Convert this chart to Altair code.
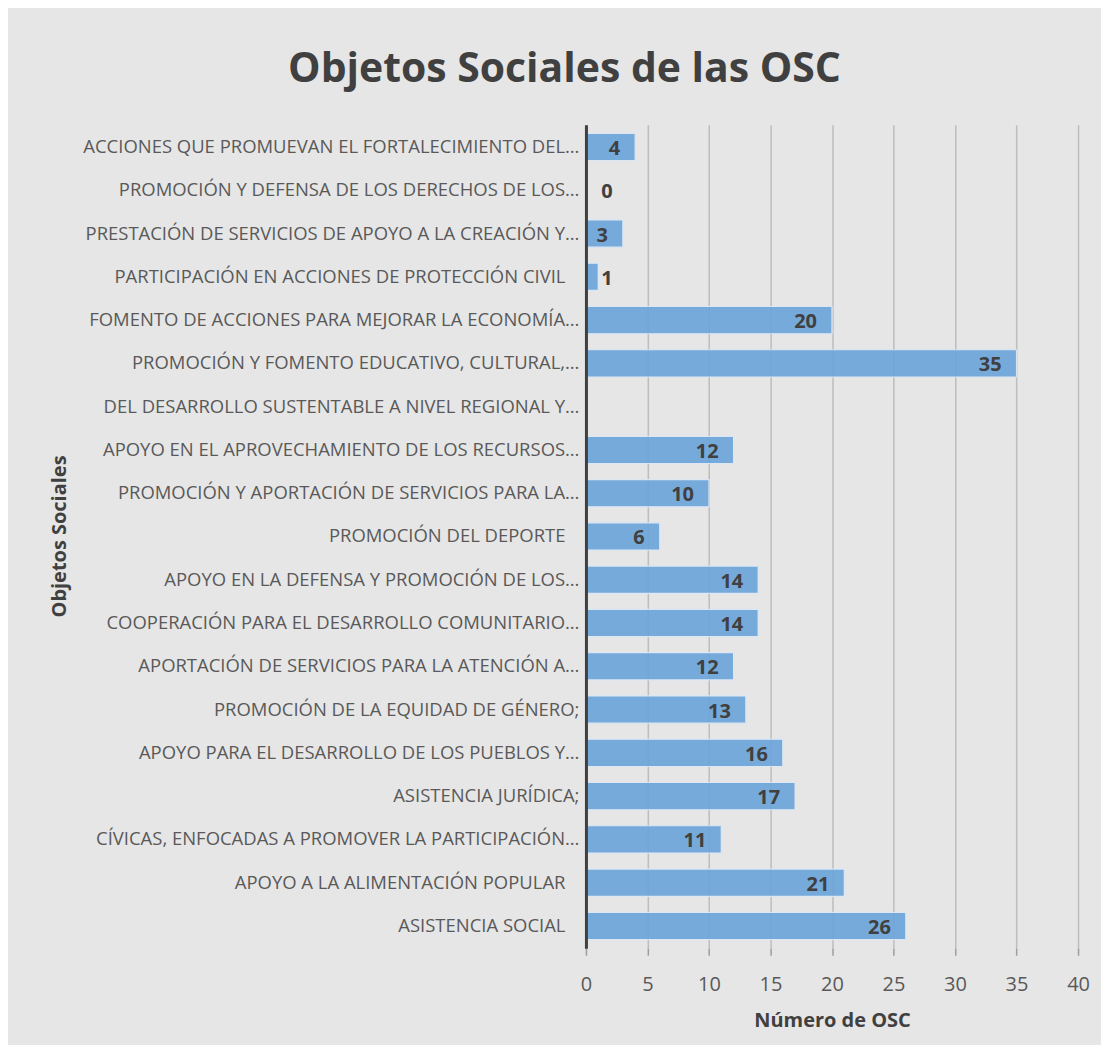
import altair as alt
import pandas as pd

categorias = [
    "ACCIONES QUE PROMUEVAN EL FORTALECIMIENTO DEL…",
    "PROMOCIÓN Y DEFENSA DE LOS DERECHOS DE LOS…",
    "PRESTACIÓN DE SERVICIOS DE APOYO A LA CREACIÓN Y…",
    "PARTICIPACIÓN EN ACCIONES DE PROTECCIÓN CIVIL",
    "FOMENTO DE ACCIONES PARA MEJORAR LA ECONOMÍA…",
    "PROMOCIÓN Y FOMENTO EDUCATIVO, CULTURAL,…",
    "DEL DESARROLLO SUSTENTABLE A NIVEL REGIONAL Y…",
    "APOYO EN EL APROVECHAMIENTO DE LOS RECURSOS…",
    "PROMOCIÓN Y APORTACIÓN DE SERVICIOS PARA LA…",
    "PROMOCIÓN DEL DEPORTE",
    "APOYO EN LA DEFENSA Y PROMOCIÓN DE LOS…",
    "COOPERACIÓN PARA EL DESARROLLO COMUNITARIO…",
    "APORTACIÓN DE SERVICIOS PARA LA ATENCIÓN A…",
    "PROMOCIÓN DE LA EQUIDAD DE GÉNERO;",
    "APOYO PARA EL DESARROLLO DE LOS PUEBLOS Y…",
    "ASISTENCIA JURÍDICA;",
    "CÍVICAS, ENFOCADAS A PROMOVER LA PARTICIPACIÓN…",
    "APOYO A LA ALIMENTACIÓN POPULAR",
    "ASISTENCIA SOCIAL",
]
valores = [4, 0, 3, 1, 20, 35, None, 12, 10, 6, 14, 14, 12, 13, 16, 17, 11, 21, 26]
ticks_x = [0, 5, 10, 15, 20, 25, 30, 35, 40]

df = pd.DataFrame({"cat": categorias, "v": valores})

FONT = "Open Sans"
TXT = "#595959"
DARK = "#404040"

y_scale = alt.Scale(domain=categorias, paddingInner=0.37, paddingOuter=0.2)

# labels that do not end in an ellipsis or semicolon had a trailing space in the original
pad_test = "slice(datum.label, -1) != '…' && slice(datum.label, -1) != ';'"

y_enc = alt.Y(
    "cat:N",
    sort=categorias,
    scale=y_scale,
    axis=alt.Axis(
        title="Objetos Sociales",
        titleFont=FONT, titleFontSize=20, titleFontWeight="bold", titleColor=DARK,
        titleAngle=-90, titleX=-527, titleY=412, titleAlign="center", titleBaseline="middle",
        labelFont=FONT, labelFontSize=18.5, labelColor=TXT,
        labelPadding={"condition": {"test": pad_test, "value": 21}, "value": 7},
        labelLimit=700,
        ticks=False, domain=True, domainColor=DARK, domainWidth=3, grid=False, zindex=1,
    ),
)

x_enc = alt.X(
    "v:Q",
    scale=alt.Scale(domain=[0, 40], nice=False),
    axis=alt.Axis(
        values=ticks_x, title="Número de OSC",
        titleFont=FONT, titleFontSize=20, titleFontWeight="bold", titleColor=DARK, titlePadding=16,
        labelFont=FONT, labelFontSize=20, labelColor=TXT, labelPadding=19, labelFlush=False,
        grid=True, gridColor="#bdbdbd", gridWidth=1.5,
        ticks=True, tickColor="#9e9e9e", tickSize=7, tickWidth=1.5,
        domain=False,
    ),
)

bars = alt.Chart(df).transform_filter("isValid(datum.v)").mark_bar(
    color="#6aa4da", opacity=0.9, stroke="#dbe8f5", strokeWidth=1.2
).encode(x=x_enc, y=y_enc)

inner = alt.Chart(df).transform_filter("isValid(datum.v) && datum.v >= 2").mark_text(
    align="right", baseline="middle", dx=-15, dy=2, font=FONT, fontSize=20, fontWeight="bold", color=DARK
).encode(x="v:Q", y=alt.Y("cat:N", sort=categorias, scale=y_scale), text="v:Q")

outer = alt.Chart(df).transform_filter("isValid(datum.v) && datum.v < 2").transform_calculate(
    lx="max(datum.v, 1)"
).mark_text(
    align="left", baseline="middle", dx=3, dy=2, font=FONT, fontSize=20, fontWeight="bold", color=DARK
).encode(x="lx:Q", y=alt.Y("cat:N", sort=categorias, scale=y_scale), text="v:Q")

chart = alt.layer(bars, inner, outer).properties(
    width=493, height=825,
    title=alt.TitleParams(
        "Objetos Sociales de las OSC", font=FONT, fontSize=41, fontWeight="bold", color=DARK,
        anchor="middle", dx=-268, offset=34,
    ),
    autosize=alt.AutoSizeParams(type="none"),
    padding={"left": 579, "top": 116, "right": 23, "bottom": 96},
    background="#e6e6e6",
).configure_view(stroke=None)

chart.save("out.html", embed_options={"renderer": "svg", "actions": False})
